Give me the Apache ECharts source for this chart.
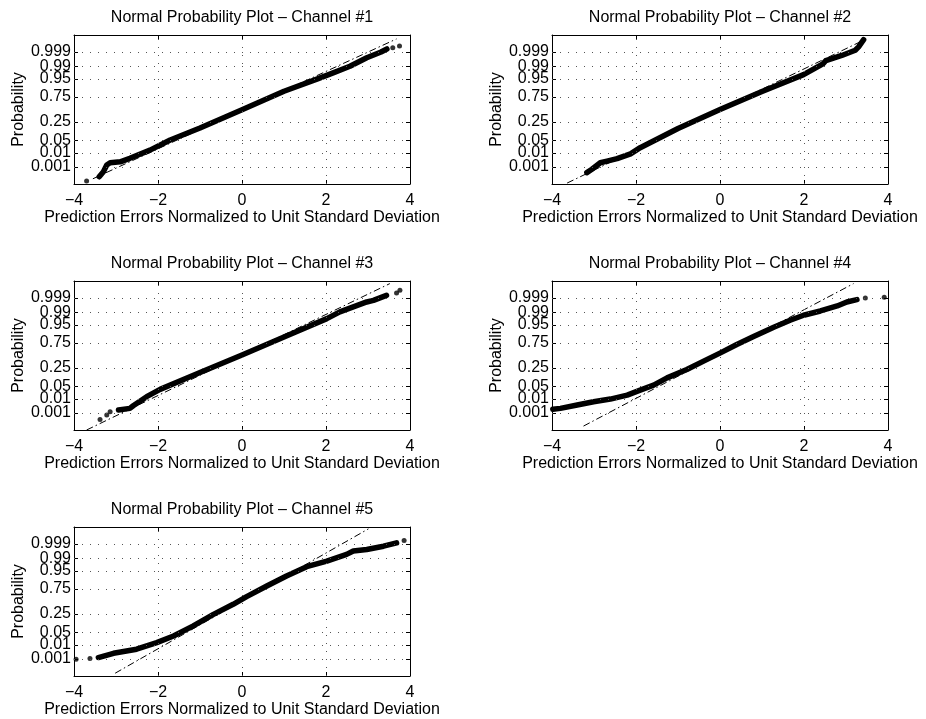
<!DOCTYPE html>
<html>
<head>
<meta charset="utf-8">
<script src="https://cdn.jsdelivr.net/npm/echarts@6/dist/echarts.min.js"></script>
<style>html,body{margin:0;padding:0;background:#fff}#c{width:926px;height:719px}</style>
</head>
<body>
<div id="c"></div>
<script>
// ---------- data ----------
const channelTitles = [
  'Normal Probability Plot \u2013 Channel #1',
  'Normal Probability Plot \u2013 Channel #2',
  'Normal Probability Plot \u2013 Channel #3',
  'Normal Probability Plot \u2013 Channel #4',
  'Normal Probability Plot \u2013 Channel #5'
];
const xAxisTitle = 'Prediction Errors Normalized to Unit Standard Deviation';
const yAxisTitle = 'Probability';
const probTickLabels = ['0.001', '0.01', '0.05', '0.25', '0.75', '0.95', '0.99', '0.999'];
const probTickZ = [-3.0902, -2.3263, -1.6449, -0.6745, 0.6745, 1.6449, 2.3263, 3.0902];
const xGridValues = [-2, 0, 2];

// channel 1
const ch1CurveX = [-3.40, -3.30, -3.22, -3.14, -2.90, -2.67, -2.19, -1.71, -1.00, 0.00, 1.00, 1.80, 2.20, 2.57, 2.97, 3.31, 3.45];
const ch1CurveZ = [-3.61, -3.34, -2.98, -2.86, -2.81, -2.62, -2.18, -1.64, -0.99, -0.01, 0.98, 1.645, 1.99, 2.326, 2.78, 3.09, 3.25];
const ch1DotX = [-3.70, 3.59, 3.75];
const ch1DotZ = [-3.84, 3.32, 3.41];
const ch1RefX = [-3.55, 3.68];
const ch1RefZ = [-3.72, 3.79];

// channel 2
const ch2CurveX = [-3.17, -3.05, -2.85, -2.69, -2.45, -2.13, -1.90, -1.00, 0.00, 1.00, 1.99, 2.45, 2.52, 2.90, 3.22, 3.30, 3.42];
const ch2CurveZ = [-3.39, -3.21, -2.86, -2.77, -2.64, -2.38, -2.05, -1.02, 0.00, 0.97, 1.875, 2.45, 2.62, 2.90, 3.18, 3.36, 3.75];
const ch2DotX = [];
const ch2DotZ = [];
const ch2RefX = [-3.64, 3.40];
const ch2RefZ = [-3.95, 3.70];

// channel 3
const ch3CurveX = [-2.94, -2.67, -2.59, -2.27, -1.95, -1.00, 0.00, 1.00, 2.02, 2.33, 2.65, 2.97, 3.13, 3.44];
const ch3CurveZ = [-2.93, -2.84, -2.70, -2.21, -1.82, -0.91, 0.03, 0.99, 1.98, 2.34, 2.61, 2.875, 2.96, 3.23];
const ch3DotX = [-3.38, -3.22, -3.14, 3.68, 3.76];
const ch3DotZ = [-3.43, -3.20, -3.02, 3.36, 3.50];
const ch3RefX = [-3.70, 3.52];
const ch3RefZ = [-4.00, 3.86];

// channel 4
const ch4CurveX = [-3.98, -3.80, -3.40, -3.01, -2.61, -2.21, -1.90, -1.58, -1.26, -0.79, -0.39, 0.01, 0.40, 0.80, 1.28, 1.67, 1.99, 2.39, 2.79, 3.02, 3.26];
const ch4CurveZ = [-2.89, -2.84, -2.66, -2.48, -2.34, -2.125, -1.86, -1.59, -1.20, -0.75, -0.30, 0.14, 0.59, 1.02, 1.52, 1.89, 2.16, 2.39, 2.66, 2.875, 3.00];
const ch4DotX = [3.46, 3.91];
const ch4DotZ = [3.09, 3.125];
const ch4RefX = [-3.25, 3.18];
const ch4RefZ = [-3.79, 3.86];

// channel 5
const ch5CurveX = [-3.42, -3.06, -2.51, -2.03, -1.63, -1.16, -0.68, -0.21, 0.11, 0.59, 1.06, 1.54, 2.02, 2.49, 2.65, 2.97, 3.37, 3.68];
const ch5CurveZ = [-3.01, -2.78, -2.56, -2.21, -1.85, -1.31, -0.69, -0.15, 0.26, 0.83, 1.37, 1.87, 2.17, 2.53, 2.71, 2.79, 2.97, 3.15];
const ch5DotX = [-3.95, -3.62, 3.86];
const ch5DotZ = [-3.10, -3.06, 3.28];
const ch5RefX = [-3.02, 3.01];
const ch5RefZ = [-3.85, 3.90];

const channels = [
  {cx: ch1CurveX, cz: ch1CurveZ, dx: ch1DotX, dz: ch1DotZ, rx: ch1RefX, rz: ch1RefZ},
  {cx: ch2CurveX, cz: ch2CurveZ, dx: ch2DotX, dz: ch2DotZ, rx: ch2RefX, rz: ch2RefZ},
  {cx: ch3CurveX, cz: ch3CurveZ, dx: ch3DotX, dz: ch3DotZ, rx: ch3RefX, rz: ch3RefZ},
  {cx: ch4CurveX, cz: ch4CurveZ, dx: ch4DotX, dz: ch4DotZ, rx: ch4RefX, rz: ch4RefZ},
  {cx: ch5CurveX, cz: ch5CurveZ, dx: ch5DotX, dz: ch5DotZ, rx: ch5RefX, rz: ch5RefZ}
];

// ---------- layout ----------
const FONT = 'Liberation Sans';
const FS = 16;
const panels = [
  {left: 74, top: 35},
  {left: 552, top: 35},
  {left: 74, top: 281},
  {left: 552, top: 281},
  {left: 74, top: 527}
];
const PW = 336, PH = 149;

const zip = (a, b) => a.map((v, k) => [v, b[k]]);
const probLabel = v => {
  for (let k = 0; k < probTickZ.length; k++) if (Math.abs(probTickZ[k] - v) < 1e-4) return probTickLabels[k];
  return '';
};
// split tick positions into two interleaved sets so that each label axis has well spaced labels
const probEvenZ = probTickZ.filter((z, k) => k % 2 === 0);
const probOddZ = probTickZ.filter((z, k) => k % 2 === 1);
const minusFmt = v => (v < 0 ? '\u2212' + Math.abs(v) : String(v));
const txt = {color: '#000', fontFamily: FONT, fontSize: FS};
const blackLine = {show: true, onZero: false, lineStyle: {color: '#000', width: 1}};
const dottedStyle = {color: '#555', width: 1, type: [1, 7]};
const tick = {show: true, inside: true, length: 4, lineStyle: {color: '#000'}};

const grid = [], xAxis = [], yAxis = [], series = [], graphic = [];
panels.forEach((p, i) => {
  grid.push({left: p.left, top: p.top, width: PW, height: PH, containLabel: false});
  graphic.push({
    type: 'text', x: p.left + PW / 2, y: p.top - 17,
    style: {text: channelTitles[i], fill: '#000', fontFamily: FONT, fontSize: FS, align: 'center', verticalAlign: 'middle'}
  });
});
// main axes (0..4)
panels.forEach((p, i) => {
  xAxis.push({
    gridIndex: i, type: 'value', min: -4, max: 4, interval: 2,
    axisLine: blackLine, axisTick: tick,
    axisLabel: Object.assign({margin: 9, formatter: minusFmt, showMinLabel: true, showMaxLabel: true}, txt),
    splitLine: {show: false},
    name: xAxisTitle, nameLocation: 'middle', nameGap: 26, nameTextStyle: txt
  });
  yAxis.push({
    gridIndex: i, type: 'value', position: 'left', min: -4, max: 4,
    axisLine: blackLine,
    axisTick: Object.assign({customValues: probTickZ}, tick),
    axisLabel: Object.assign({margin: 3, formatter: probLabel, customValues: probEvenZ,
      showMinLabel: true, showMaxLabel: true}, txt),
    splitLine: {show: false},
    name: yAxisTitle, nameLocation: 'middle', nameGap: 47, nameRotate: 90, nameTextStyle: txt
  });
});
// mirror axes (top / right) for the box (5..9)
panels.forEach((p, i) => {
  xAxis.push({
    gridIndex: i, type: 'value', position: 'top', min: -4, max: 4, interval: 2,
    axisLine: blackLine, axisTick: tick,
    axisLabel: {show: false}, splitLine: {show: false}
  });
  yAxis.push({
    gridIndex: i, type: 'value', position: 'right', min: -4, max: 4,
    axisLine: blackLine,
    axisTick: Object.assign({customValues: probTickZ}, tick),
    axisLabel: {show: false, customValues: probTickZ}, splitLine: {show: false}
  });
});
// second label axis on the left (10..14) carrying the other half of the probability labels
panels.forEach((p, i) => {
  yAxis.push({
    gridIndex: i, type: 'value', position: 'left', offset: 0, min: -4, max: 4,
    axisLine: {show: false, onZero: false},
    axisTick: {show: false, customValues: probOddZ},
    axisLabel: Object.assign({margin: 3, formatter: probLabel, customValues: probOddZ,
      showMinLabel: true, showMaxLabel: true}, txt),
    splitLine: {show: false}
  });
});
const gridMarks = probTickZ.map(z => ({yAxis: z})).concat(xGridValues.map(x => ({xAxis: x})));
channels.forEach((c, i) => {
  series.push({
    type: 'line', xAxisIndex: i, yAxisIndex: i, data: zip(c.rx, c.rz),
    symbol: 'none', silent: true, z: 2,
    lineStyle: {color: '#000', width: 1, type: [7, 3, 1.5, 3]},
    markLine: {
      silent: true, symbol: ['none', 'none'], label: {show: false},
      lineStyle: dottedStyle, emphasis: {disabled: true},
      data: gridMarks
    }
  });
  series.push({
    type: 'line', xAxisIndex: i, yAxisIndex: i, data: zip(c.cx, c.cz),
    symbol: 'none', silent: true, z: 3,
    lineStyle: {color: '#000', width: 5.5, cap: 'round', join: 'round'}
  });
  series.push({
    type: 'scatter', xAxisIndex: i, yAxisIndex: i, data: zip(c.dx, c.dz),
    symbol: 'circle', symbolSize: 5, silent: true, z: 3,
    itemStyle: {color: '#000'}
  });
});

const chart = echarts.init(document.getElementById('c'), null, {renderer: 'canvas'});
chart.setOption({
  animation: false,
  backgroundColor: '#fff',
  textStyle: {fontFamily: FONT},
  grid, xAxis, yAxis, series, graphic
});
</script>
</body>
</html>
